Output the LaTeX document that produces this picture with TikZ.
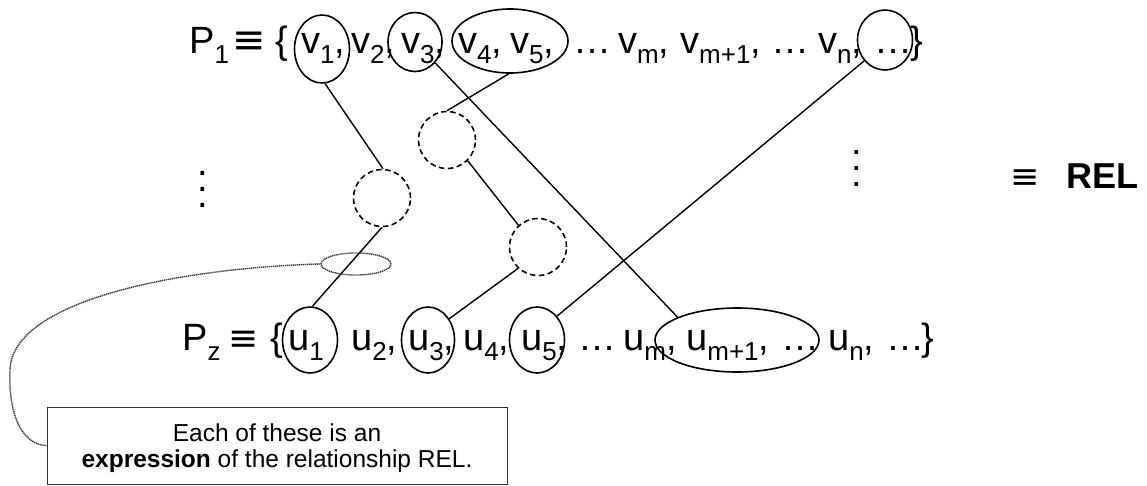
\documentclass[tikz,border=0pt]{standalone}
\usepackage{fontspec}
\setmainfont{Liberation Sans}
\newfontfamily\symfont{DejaVu Sans}
\usetikzlibrary{shapes.geometric}
% lowered index set in a smaller size
\newcommand\sbs[1]{\raisebox{-10pt}{\fontsize{26}{26}\selectfont #1}}
\begin{document}
\begin{tikzpicture}[x=1pt,y=-1pt,
  tok/.style={anchor=base west, inner sep=0pt, font=\fontsize{38}{40}\selectfont},
  eqv/.style={anchor=base west, inner sep=0pt, font=\symfont\fontsize{#1}{40}\selectfont},
  ring/.style={draw, ellipse, line width=1.6pt, inner sep=0pt},
  expr/.style={draw, circle, dash pattern=on 5.5pt off 3.5pt, line width=1.6pt, minimum size=57pt, inner sep=0pt},
  link/.style={line width=1.4pt},
  note/.style={draw=black!80, dash pattern=on 1.3pt off 0.7pt, line width=1.4pt},
  vdots/.style={inner sep=0pt, align=center, font=\fontsize{38}{16}\selectfont}
]
\useasboundingbox (0,0) rectangle (1147,485);

% first set P_1
\node[tok] (p1) at (189,53) {P\sbs{1}};
\node[eqv=40] (eq1) at (232,53) {≡};
\node[tok] (lb1) at (275,53) {\{};
\node[tok] (v1) at (301,53) {v\sbs{1},};
\node[tok] (v2) at (351,53) {v\sbs{2},};
\node[tok] (v3) at (401,53) {v\sbs{3},};
\node[tok] (v4) at (458,53) {v\sbs{4},};
\node[tok] (v5) at (510,53) {v\sbs{5},};
\node[tok] (d1) at (573,53) {…};
\node[tok] (vm) at (618,53) {v\sbs{m},};
\node[tok] (vm1) at (680,53) {v\sbs{m+1},};
\node[tok] (d2) at (771,53) {…};
\node[tok] (vn) at (818,53) {v\sbs{n},};
\node[tok] (d3) at (874,53) {…};
\node[tok] (rb1) at (910,53) {\}};

% last set P_z
\node[tok] (pz) at (182,350) {P\sbs{z}};
\node[eqv=36] (eq2) at (228,350) {≡};
\node[tok] (lb2) at (270,350) {\{};
\node[tok] (u1) at (288,350) {u\sbs{1}};
\node[tok] (u2) at (351,350) {u\sbs{2},};
\node[tok] (u3) at (408,350) {u\sbs{3},};
\node[tok] (u4) at (463,350) {u\sbs{4},};
\node[tok] (u5) at (521,350) {u\sbs{5},};
\node[tok] (e1) at (578,350) {…};
\node[tok] (um) at (623,350) {u\sbs{m},};
\node[tok] (um1) at (686,350) {u\sbs{m+1},};
\node[tok] (e2) at (781,350) {…};
\node[tok] (un) at (828,350) {u\sbs{n},};
\node[tok] (e3) at (886,350) {…};
\node[tok] (rb2) at (921,350) {\}};

% vertical ellipses and the relation name
\node[vdots] (vd1) at (203,189) {.\\.\\.};
\node[vdots] (vd2) at (857,168) {.\\.\\.};
\node[eqv=35] (eq3) at (1010,188) {≡};
\node[tok, font=\bfseries\fontsize{36}{40}\selectfont] (rel) at (1066,188) {REL};

% selected elements
\node[ring, minimum width=55pt, minimum height=68pt] (cv1) at (322,49) {};
\node[ring, minimum width=54pt, minimum height=59pt] (cv3) at (415,42) {};
\node[ring, minimum width=116pt, minimum height=64pt] (cv45) at (510,41) {};
\node[ring, minimum width=55pt, minimum height=60pt] (cvx) at (885,40) {};
\node[ring, minimum width=55pt, minimum height=66pt] (cu1) at (310,340) {};
\node[ring, minimum width=53pt, minimum height=66pt] (cu3) at (428,340) {};
\node[ring, minimum width=55pt, minimum height=66pt] (cu5) at (537,340) {};
\node[ring, minimum width=164pt, minimum height=64pt] (cum) at (737,340) {};

% intermediate sets
\node[expr] (x1) at (382,198) {};
\node[expr] (x2) at (447,140) {};
\node[expr] (x3) at (538,247) {};

% expressions of the relationship
\draw[link] (cv1.-85) -- (x1.88);
\draw[link] (x1.-90) -- (cu1.86);
\draw[link] (cv45.-92) -- (x2.90);
\draw[link] (x2.-45) -- (x3.132);
\draw[link] (x3.-133) -- (cu3.45);
\draw[link] (cv3.-46) -- (cum.159);
\draw[link] (cvx.-135) -- (cu5.50);

% callout
\node[note, ellipse, minimum width=70pt, minimum height=22pt, inner sep=0pt] (sel) at (356,264) {};
\node[draw=black!80, line width=1pt, minimum width=460pt, minimum height=77pt, inner sep=0pt] (box) at (277,445.5) {};
\node[align=center, inner sep=0pt, font=\fontsize{24.5}{25.5}\selectfont] (boxtext) at (277,448)
  {Each of these is an\\\textbf{expression} of the relationship REL.};
\draw[note] (sel.west) .. controls (180,268) and (12,300) .. (10,370)
  .. controls (8,420) and (25,445) .. (box.west);
\end{tikzpicture}
\end{document}
